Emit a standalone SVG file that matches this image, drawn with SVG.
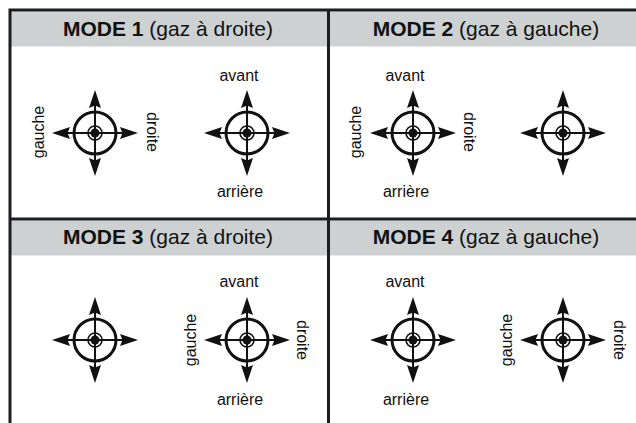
<svg xmlns="http://www.w3.org/2000/svg" xmlns:xlink="http://www.w3.org/1999/xlink" width="636" height="423" viewBox="0 0 636 423">
<style>
.hdr{fill:#cdd1d1}
.grid{stroke:#1b1d20;stroke-width:3;fill:none}
.title{font-family:"Liberation Sans",Arial,sans-serif;font-size:21px;fill:#111;text-anchor:middle}
.title .b{font-weight:bold}
.lbl{font-family:"Liberation Sans",Arial,sans-serif;font-size:16px;fill:#111;text-anchor:middle}
.ring{fill:none;stroke:#111}
</style>
<defs>
<g id="joy">
<circle class="ring" r="21" stroke-width="3"/>
<circle class="ring" r="7" stroke-width="1.6"/>
<circle r="4.5" fill="#111"/>
<line x1="0" y1="-30" x2="0" y2="30" stroke="#111" stroke-width="2"/>
<line x1="-30" y1="0" x2="30" y2="0" stroke="#111" stroke-width="2"/>
<path id="ah" d="M0,-43 L6,-25 L0,-27.5 L-6,-25 Z" fill="#111"/>
<use xlink:href="#ah" transform="rotate(90)"/>
<use xlink:href="#ah" transform="rotate(180)"/>
<use xlink:href="#ah" transform="rotate(270)"/>
</g>
</defs>
<rect width="636" height="423" fill="#fff"/>
<rect class="hdr" x="11" y="11.5" width="625" height="35"/>
<rect class="hdr" x="11" y="220.5" width="625" height="35"/>
<g id="connectors">
<path class="grid" d="M10,423 V10 H636"/>
<path class="grid" d="M10,219 H636"/>
<path class="grid" d="M328.5,10 V423"/>
</g>
<g id="mode1">
<text class="title" x="168" y="36"><tspan class="b">MODE 1</tspan> (gaz à droite)</text>
<use xlink:href="#joy" x="95" y="133"/>
<use xlink:href="#joy" x="247" y="133"/>
<text class="lbl" transform="translate(44,132) rotate(-90)">gauche</text>
<text class="lbl" transform="translate(147,132) rotate(90)">droite</text>
<text class="lbl" x="239" y="81">avant</text>
<text class="lbl" x="240" y="197">arrière</text>
</g>
<g id="mode2">
<text class="title" x="486" y="36"><tspan class="b">MODE 2</tspan> (gaz à gauche)</text>
<use xlink:href="#joy" x="413" y="133"/>
<use xlink:href="#joy" x="563" y="133"/>
<text class="lbl" transform="translate(361,132) rotate(-90)">gauche</text>
<text class="lbl" transform="translate(464,132) rotate(90)">droite</text>
<text class="lbl" x="405" y="81">avant</text>
<text class="lbl" x="406" y="197">arrière</text>
</g>
<g id="mode3">
<text class="title" x="168" y="244"><tspan class="b">MODE 3</tspan> (gaz à droite)</text>
<use xlink:href="#joy" x="95" y="340"/>
<use xlink:href="#joy" x="247" y="340"/>
<text class="lbl" transform="translate(196,340) rotate(-90)">gauche</text>
<text class="lbl" transform="translate(297,340) rotate(90)">droite</text>
<text class="lbl" x="239" y="287">avant</text>
<text class="lbl" x="240" y="405">arrière</text>
</g>
<g id="mode4">
<text class="title" x="486" y="244"><tspan class="b">MODE 4</tspan> (gaz à gauche)</text>
<use xlink:href="#joy" x="413" y="340"/>
<use xlink:href="#joy" x="563" y="340"/>
<text class="lbl" transform="translate(512,340) rotate(-90)">gauche</text>
<text class="lbl" transform="translate(614,340) rotate(90)">droite</text>
<text class="lbl" x="405" y="287">avant</text>
<text class="lbl" x="406" y="405">arrière</text>
</g>
</svg>
